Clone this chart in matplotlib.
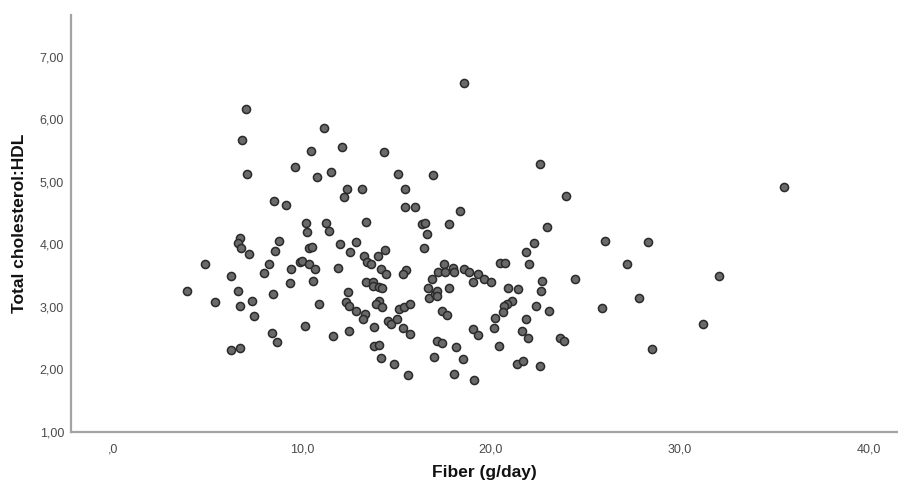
import matplotlib
matplotlib.use("Agg")
import matplotlib.pyplot as plt
from matplotlib.ticker import FixedLocator, FixedFormatter

fiber = [7.02, 6.81, 7.07, 9.63, 8.50, 9.14, 6.70, 8.80, 6.63, 6.76,
         7.20, 8.59, 4.87, 8.24, 7.97, 6.26, 9.42, 9.35, 9.89, 3.92,
         6.61, 5.41, 7.35, 8.45, 6.74, 7.46, 8.40, 8.68, 6.26, 6.70,
         18.56, 11.16, 10.46, 12.13, 14.36, 10.78, 11.52, 15.08, 16.93, 12.40,
         12.22, 13.19, 15.45, 15.45, 16.00, 18.36, 10.19, 10.28, 11.27, 11.43,
         13.37, 16.33, 16.53, 16.61, 17.80, 10.37, 10.55, 12.01, 12.87, 12.54,
         14.41, 16.48, 13.30, 13.46, 13.63, 14.00, 10.02, 10.39, 10.67, 11.92,
         14.18, 14.44, 15.50, 15.36, 17.54, 17.20, 17.58, 18.01, 18.04, 18.55,
         18.82, 19.30, 10.56, 19.05, 17.80, 16.86, 16.65, 16.70, 17.04, 17.16,
         17.13, 13.40, 13.77, 13.76, 14.07, 14.25, 12.42, 10.90, 12.33, 12.50,
         12.86, 14.07, 13.93, 14.25, 13.35, 13.23, 15.15, 15.38, 15.70, 14.55,
         14.71, 15.01, 13.81, 15.36, 15.73, 17.42, 17.69, 19.07, 19.30, 10.14,
         11.62, 12.50, 13.83, 14.07, 17.14, 17.41, 18.15, 14.18, 14.87, 15.61,
         16.98, 18.52, 18.04, 19.08, 22.58, 23.97, 22.96, 22.26, 21.87, 26.05,
         28.32, 20.46, 20.72, 22.01, 27.20, 19.63, 20.00, 20.88, 21.43, 22.70,
         22.66, 24.44, 21.09, 20.86, 20.70, 20.62, 22.36, 23.05, 27.81, 25.87,
         20.19, 20.18, 21.85, 21.66, 21.98, 23.65, 23.88, 20.44, 28.50, 21.38,
         21.71, 22.58, 35.50, 32.08, 31.23]

ratio = [6.16, 5.67, 5.12, 5.24, 4.69, 4.63, 4.11, 4.05, 4.03, 3.94,
         3.84, 3.90, 3.69, 3.68, 3.54, 3.50, 3.60, 3.38, 3.72, 3.25,
         3.26, 3.08, 3.10, 3.21, 3.02, 2.86, 2.58, 2.44, 2.31, 2.35,
         6.58, 5.86, 5.49, 5.56, 5.48, 5.08, 5.16, 5.13, 5.11, 4.88,
         4.76, 4.89, 4.88, 4.60, 4.60, 4.53, 4.34, 4.20, 4.34, 4.21,
         4.36, 4.33, 4.35, 4.17, 4.32, 3.94, 3.96, 4.00, 4.04, 3.88,
         3.91, 3.94, 3.81, 3.72, 3.68, 3.81, 3.74, 3.68, 3.60, 3.62,
         3.61, 3.52, 3.59, 3.52, 3.68, 3.56, 3.56, 3.62, 3.56, 3.60,
         3.56, 3.52, 3.42, 3.40, 3.30, 3.44, 3.31, 3.14, 3.20, 3.26,
         3.17, 3.40, 3.40, 3.33, 3.32, 3.30, 3.24, 3.04, 3.08, 3.01,
         2.94, 3.10, 3.04, 3.00, 2.89, 2.80, 2.96, 3.00, 3.04, 2.78,
         2.73, 2.81, 2.68, 2.66, 2.57, 2.94, 2.87, 2.65, 2.55, 2.70,
         2.53, 2.61, 2.38, 2.39, 2.45, 2.42, 2.36, 2.19, 2.08, 1.91,
         2.20, 2.17, 1.93, 1.83, 5.28, 4.77, 4.28, 4.02, 3.88, 4.06,
         4.04, 3.71, 3.70, 3.69, 3.69, 3.44, 3.40, 3.31, 3.28, 3.42,
         3.25, 3.44, 3.10, 3.05, 3.01, 2.92, 3.02, 2.93, 3.14, 2.98,
         2.82, 2.66, 2.81, 2.62, 2.51, 2.50, 2.45, 2.38, 2.32, 2.08,
         2.14, 2.06, 4.92, 3.50, 2.73]

x_ticks = [0, 10, 20, 30, 40]
x_tick_labels = [",0", "10,0", "20,0", "30,0", "40,0"]
y_ticks = [1, 2, 3, 4, 5, 6, 7]
y_tick_labels = ["1,00", "2,00", "3,00", "4,00", "5,00", "6,00", "7,00"]

plt.rcParams['font.family'] = ['Liberation Sans', 'DejaVu Sans']

W, H = 898, 486
fig = plt.figure(figsize=(W / 100, H / 100), dpi=100)
left, right, top, bottom = 71, 897, 15, 432
ax = fig.add_axes([left / W, 1 - bottom / H, (right - left) / W, (bottom - top) / H])

ax.scatter(fiber, ratio, s=34, facecolor="#6a6a6a", edgecolor="#2a2a2a",
           linewidths=1.1, zorder=3, clip_on=False)

ax.set_xlim(-2.22, 41.48)
ax.set_ylim(1.0, 7.67)

ax.xaxis.set_major_locator(FixedLocator(x_ticks))
ax.xaxis.set_major_formatter(FixedFormatter(x_tick_labels))
ax.yaxis.set_major_locator(FixedLocator(y_ticks))
ax.yaxis.set_major_formatter(FixedFormatter(y_tick_labels))

for s in ["top", "right"]:
    ax.spines[s].set_visible(False)
for s in ["left", "bottom"]:
    ax.spines[s].set_color("#a3a3a3")
    ax.spines[s].set_linewidth(1.6)

ax.tick_params(axis="both", length=0, labelsize=9, labelcolor="#4a4a4a")
ax.tick_params(axis="x", pad=8)
ax.tick_params(axis="y", pad=5)

ax.set_xlabel("Fiber (g/day)", fontsize=12.5, fontweight="bold", labelpad=7, color="#111111")
ax.set_ylabel("Total cholesterol:HDL", fontsize=12.5, fontweight="bold", labelpad=9, color="#111111")

fig.savefig("out.png", dpi=100)
